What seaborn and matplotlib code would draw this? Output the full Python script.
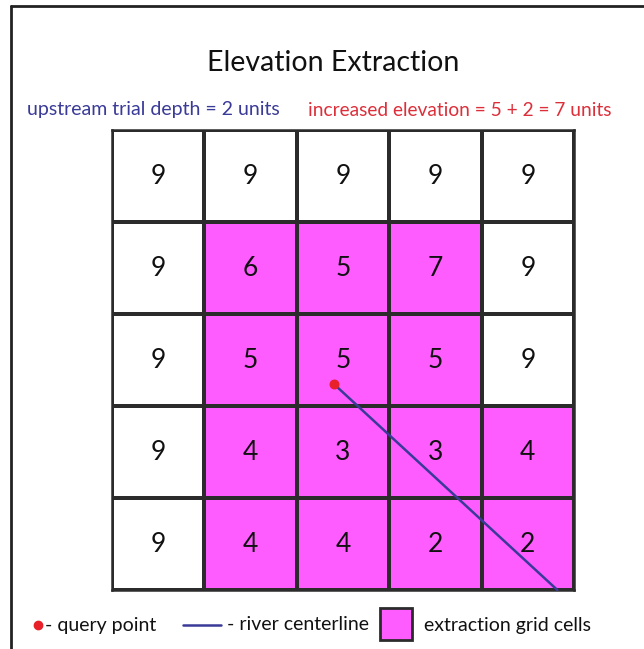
import matplotlib
matplotlib.use("Agg")
import matplotlib.pyplot as plt
import seaborn as sns
import numpy as np
from matplotlib.colors import ListedColormap
from matplotlib.lines import Line2D
from matplotlib.patches import Rectangle

# elevation values per cell (row 0 = top)
elevation = [
    [9, 9, 9, 9, 9],
    [9, 6, 5, 7, 9],
    [9, 5, 5, 5, 9],
    [9, 4, 3, 3, 4],
    [9, 4, 4, 2, 2],
]
# 1 = extraction grid cell
extraction = [
    [0, 0, 0, 0, 0],
    [0, 1, 1, 1, 0],
    [0, 1, 1, 1, 0],
    [0, 1, 1, 1, 1],
    [0, 1, 1, 1, 1],
]
# query point and river centerline in grid units
query_x = [2.40]
query_y = [2.76]
river_x = [2.40, 4.82]
river_y = [2.76, 5.00]

magenta = "#FF5CFF"
blue = "#3A3A98"
red = "#DC2F3A"
grid_col = "#2b2b2b"

sns.set_theme(style="white")
plt.rcParams["font.family"] = ["Lato", "DejaVu Sans"]

fig = plt.figure(figsize=(6.44, 6.49), dpi=100)
ax = fig.add_axes([112 / 644, 59 / 649, 462 / 644, 460 / 649])

sns.heatmap(
    np.array(extraction),
    annot=np.array(elevation),
    fmt="d",
    cmap=ListedColormap(["white", magenta]),
    vmin=0, vmax=1,
    cbar=False,
    linewidths=1.6,
    linecolor=grid_col,
    annot_kws={"fontsize": 19, "color": "#111"},
    square=False,
    ax=ax,
)
ax.set_xticks([])
ax.set_yticks([])
for sp in ax.spines.values():
    sp.set_visible(True)
    sp.set_color(grid_col)
    sp.set_linewidth(1.8)

ax.plot(river_x, river_y, color=blue, lw=1.8, clip_on=False, zorder=5)
ax.scatter(query_x, query_y, s=38, color="#E8202A", zorder=6, clip_on=False)

# frame (top and left edges only)
fig.add_artist(Line2D([11 / 644, 11 / 644], [0, 1 - 6 / 649], color="#222", lw=2))
fig.add_artist(Line2D([11 / 644, 1], [1 - 6 / 649, 1 - 6 / 649], color="#222", lw=2))

fig.text(333 / 644, 1 - 63 / 649, "Elevation Extraction", ha="center", va="center",
         fontsize=20.5, color="#111")
fig.text(27 / 644, 1 - 110 / 649, "upstream trial depth = 2 units", ha="left", va="center",
         fontsize=14, color=blue)
fig.text(308 / 644, 1 - 110 / 649, "increased elevation = 5 + 2 = 7 units", ha="left",
         va="center", fontsize=13.8, color=red)

# legend
ly = 1 - 625 / 649
fig.add_artist(Line2D([38 / 644], [ly], marker="o", markersize=6, color="#E8202A", lw=0))
fig.text(45 / 644, ly, "- query point", ha="left", va="center", fontsize=14, color="#111")
fig.add_artist(Line2D([183 / 644, 221 / 644], [ly, ly], color=blue, lw=1.8))
fig.text(227 / 644, ly, "- river centerline", ha="left", va="center", fontsize=14, color="#111")
fig.add_artist(Rectangle((380 / 644, 1 - 640 / 649), 32 / 644, 32 / 649,
                         facecolor=magenta, edgecolor=grid_col, lw=2,
                         transform=fig.transFigure))
fig.text(424 / 644, ly, "extraction grid cells", ha="left", va="center", fontsize=14, color="#111")

fig.savefig("out.png", dpi=100)
